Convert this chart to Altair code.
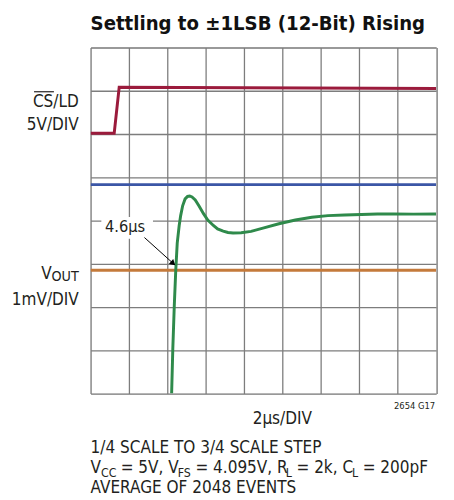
import altair as alt
import pandas as pd

# ---- data (x in microseconds, 2 us/div; y in scope divisions) ----
cs_t = [0.0, 1.23, 1.49, 18.0]
cs_v = [6.02, 6.02, 7.08, 7.05]

vout_t = [4.221, 4.282, 4.359, 4.436, 4.513, 4.615, 4.692, 4.795, 4.923, 5.051,
          5.164, 5.282, 5.451, 5.641, 5.882, 6.103, 6.395, 6.615, 6.908, 7.154,
          7.421, 7.846, 8.359, 9.026, 9.810, 10.667, 11.523, 12.359, 13.231, 14.103,
          14.938, 15.795, 16.821, 18.0]
vout_v = [0.0, 1.023, 2.023, 2.848, 3.477, 3.886, 4.114, 4.341, 4.5, 4.557,
          4.568, 4.545, 4.477, 4.341, 4.159, 4.011, 3.886, 3.807, 3.757, 3.723,
          3.711, 3.716, 3.75, 3.83, 3.925, 4.011, 4.075, 4.114, 4.13, 4.141,
          4.152, 4.152, 4.148, 4.152]

upper_level = 4.83
lower_level = 2.85

arrow_t = [2.805, 4.30]
arrow_v = [3.607, 3.01]
head_t = [4.30]
head_v = [3.01]

x_ticks = [0, 2, 4, 6, 8, 10, 12, 14, 16, 18]
y_ticks = [0, 1, 2, 3, 4, 5, 6, 7, 8]

FONT = "DejaVu Sans Condensed, DejaVu Sans, sans-serif"
MAIN = 17.3
SUB = 12.5
TXT = "#231f20"


def xenc(field="t"):
    return alt.X(f"{field}:Q", scale=alt.Scale(domain=[0, 18], nice=False, zero=False),
                 axis=alt.Axis(values=x_ticks, grid=True, labels=False, ticks=False,
                               domain=False, title=None, gridColor="#7d7d7d", gridWidth=1.3))


def yenc(field="v"):
    return alt.Y(f"{field}:Q", scale=alt.Scale(domain=[0, 8], nice=False, zero=False),
                 axis=alt.Axis(values=y_ticks, grid=True, labels=False, ticks=False,
                               domain=False, title=None, gridColor="#7d7d7d", gridWidth=1.3))


cs_df = pd.DataFrame({"t": cs_t, "v": cs_v, "o": range(len(cs_t))})
vout_df = pd.DataFrame({"t": vout_t, "v": vout_v, "o": range(len(vout_t))})
lev_df = pd.DataFrame({"t": [0, 18, 0, 18], "v": [upper_level, upper_level, lower_level, lower_level],
                       "s": ["u", "u", "l", "l"]})

cs_line = alt.Chart(cs_df).mark_line(color="#9b1b3c", strokeWidth=3, clip=True).encode(
    x=xenc(), y=yenc(), order="o:Q")
upper = alt.Chart(lev_df[lev_df.s == "u"]).mark_line(color="#3b56a6", strokeWidth=3, clip=True).encode(
    x=xenc(), y=yenc())
lower = alt.Chart(lev_df[lev_df.s == "l"]).mark_line(color="#c47a3b", strokeWidth=3, clip=True).encode(
    x=xenc(), y=yenc())
vout_line = alt.Chart(vout_df).mark_line(color="#2f8a4b", strokeWidth=3, clip=True).encode(
    x=xenc(), y=yenc(), order="o:Q")

# annotation "4.6us" with white box and arrow
box_df = pd.DataFrame({"t": [0.56], "t2": [3.25], "v": [3.58], "v2": [4.08]})
box = alt.Chart(box_df).mark_rect(color="white").encode(
    x=xenc(), x2="t2:Q", y=yenc(), y2="v2:Q")
ann_df = pd.DataFrame({"t": [0.75], "v": [3.85], "label": ["4.6µs"]})
ann = alt.Chart(ann_df).mark_text(align="left", baseline="middle", font=FONT, fontSize=16.5,
                                  color=TXT).encode(x=xenc(), y=yenc(), text="label:N")
arrow_df = pd.DataFrame({"t": arrow_t, "v": arrow_v})
arrow = alt.Chart(arrow_df).mark_line(color="black", strokeWidth=1).encode(x=xenc(), y=yenc())
head_df = pd.DataFrame({"t": head_t, "v": head_v})
head = alt.Chart(head_df).mark_point(shape="triangle-up", filled=True, angle=132, size=45,
                                     color="black", opacity=1).encode(x=xenc(), y=yenc())


# ---- texts placed around the plot (pixel positions relative to plot origin) ----
def text_layer(rows, size, align="left", weight="normal", color=TXT):
    df = pd.DataFrame(rows, columns=["px", "py", "label"])
    return alt.Chart(df).mark_text(align=align, baseline="alphabetic", font=FONT, fontSize=size,
                                   fontWeight=weight, color=color).encode(
        x=alt.X("px:Q", scale=None), y=alt.Y("py:Q", scale=None), text="label:N")


title = text_layer([(0, -17.5, "Settling to ±1LSB (12-Bit) Rising")], 20.5, weight="bold", color="#111")

left_big = text_layer([
    (-12, 61, "CS/LD"),
    (-12, 83.7, "5V/DIV"),
    (-39.5, 235.3, "V"),
    (-12, 262, "1mV/DIV"),
], MAIN, align="right")
left_sub = text_layer([(-12, 238, "OUT")], 14.5, align="right")

overline = alt.Chart(pd.DataFrame({"a": [0]})).mark_rule(color=TXT, strokeWidth=1.2).encode(
    x=alt.value(-57.5), x2=alt.value(-37.3), y=alt.value(45))

bottom_big = text_layer([
    (195, 382.7, "2µs/DIV"),
], MAIN, align="center")
code_lbl = text_layer([(350.5, 367.7, "2654 G17")], 9.5, align="right")

notes = text_layer([
    (0, 412, "1/4 SCALE TO 3/4 SCALE STEP"),
    (0, 433, "V"),
    (30.6, 433, "= 5V, V"),
    (106.6, 433, "= 4.095V, R"),
    (209.4, 433, "= 2k, C"),
    (276.7, 433, "= 200pF"),
    (0, 453, "AVERAGE OF 2048 EVENTS"),
], MAIN)
notes_sub = text_layer([
    (10.6, 436.5, "CC"),
    (88.6, 436.5, "FS"),
    (198.6, 436.5, "L"),
    (266, 436.5, "L"),
], SUB)

chart = alt.layer(
    upper, lower, cs_line, vout_line, box, ann, arrow, head,
    title, left_big, left_sub, overline, bottom_big, code_lbl, notes, notes_sub
).properties(
    width=351.5, height=352,
    autosize=alt.AutoSizeParams(type="none"),
    padding={"left": 84, "top": 36, "right": 10, "bottom": 100},
).configure_view(stroke="#111", strokeWidth=1.6).configure(background="white")

chart.save("out.html", embed_options={"renderer": "svg", "actions": False})
